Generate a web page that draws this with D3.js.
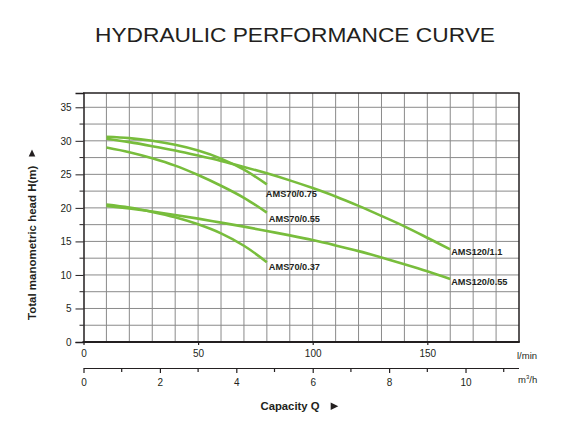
<!DOCTYPE html>
<html>
<head>
<meta charset="utf-8">
<script src="https://cdn.jsdelivr.net/npm/d3@7"></script>
<style>
  html, body { margin: 0; padding: 0; background: #fff; }
  svg { display: block; font-family: "Liberation Sans", Arial, Helvetica, sans-serif; }
</style>
</head>
<body>
<svg id="chart" width="567" height="443"></svg>
<script>
// ---------- data ----------
const title = "HYDRAULIC PERFORMANCE CURVE";
const yLabel = "Total manometric head H(m)";
const xLabel = "Capacity Q";
const yTicks = [0, 5, 10, 15, 20, 25, 30, 35];
const lminTicks = [0, 50, 100, 150];
const m3hTicks = [0, 2, 4, 6, 8, 10];
const m3hMinorTicks = [1, 3, 5, 7, 9, 11];

const seriesNames = ["AMS70/0.75", "AMS70/0.55", "AMS70/0.37", "AMS120/1.1", "AMS120/0.55"];
const q70 = [10, 20, 30, 40, 50, 60, 70, 80];
const h70_075 = [30.6, 30.4, 30.0, 29.4, 28.55, 27.35, 25.7, 23.5];
const h70_055 = [29.0, 28.3, 27.4, 26.3, 24.9, 23.3, 21.5, 19.3];
const h70_037 = [20.5, 20.05, 19.4, 18.6, 17.55, 16.2, 14.35, 11.9];
const q120 = [10, 20, 30, 40, 50, 60, 70, 80, 90, 100, 110, 120, 130, 140, 150, 160];
const h120_11 = [30.3, 29.8, 29.2, 28.55, 27.8, 27.0, 26.1, 25.15, 24.1, 22.95, 21.7, 20.3, 18.8, 17.25, 15.55, 13.8];
const h120_055 = [20.3, 19.9, 19.45, 18.95, 18.4, 17.8, 17.2, 16.55, 15.9, 15.2, 14.4, 13.55, 12.6, 11.6, 10.55, 9.4];

const seriesFlows = [q70, q70, q70, q120, q120];
const seriesHeads = [h70_075, h70_055, h70_037, h120_11, h120_055];

// ---------- styles / layout ----------
const green = "#78bd3c";
const ink = "#231f20";
const gridColor = "#8a8a8a";
const labelOffsets = {
  "AMS70/0.75": [-1, 9],
  "AMS70/0.55": [2, 6],
  "AMS70/0.37": [2, 5],
  "AMS120/1.1": [1, 2],
  "AMS120/0.55": [1, 3]
};
const L_PER_M3H = 1000 / 60;

const svg = d3.select("#chart");
const x = d3.scaleLinear().domain([0, 190]).range([83.5, 519]);
const y = d3.scaleLinear().domain([0, 37.13]).range([342, 93]);

// title
svg.append("text")
  .attr("x", 295).attr("y", 41.5)
  .attr("text-anchor", "middle")
  .attr("font-size", 19.5)
  .attr("fill", ink)
  .attr("textLength", 400)
  .attr("lengthAdjust", "spacingAndGlyphs")
  .text(title);

// grid
const grid = svg.append("g");
grid.selectAll("line.v").data(d3.range(10, 181, 10)).join("line")
  .attr("x1", d => x(d)).attr("x2", d => x(d))
  .attr("y1", y(37.13)).attr("y2", y(0))
  .attr("stroke", gridColor).attr("stroke-width", 1);
grid.selectAll("line.h").data(d3.range(2.5, 35.1, 2.5)).join("line")
  .attr("x1", x(0)).attr("x2", x(190))
  .attr("y1", d => y(d)).attr("y2", d => y(d))
  .attr("stroke", gridColor).attr("stroke-width", 1);

// frame
svg.append("line").attr("x1", x(0) - 0.5).attr("x2", x(190) + 0.5)
  .attr("y1", y(37.13)).attr("y2", y(37.13))
  .attr("stroke", ink).attr("stroke-width", 1.3);
svg.append("line").attr("x1", x(190)).attr("x2", x(190))
  .attr("y1", y(37.13)).attr("y2", y(0))
  .attr("stroke", ink).attr("stroke-width", 1.5);

// y axis
const yAxis = d3.axisLeft(y).tickValues(yTicks).tickSize(8).tickPadding(4);
const gy = svg.append("g").attr("transform", `translate(${x(0)},0)`).call(yAxis);
gy.select(".domain").attr("stroke", ink).attr("stroke-width", 1.5);
gy.selectAll(".tick line").attr("stroke", ink).attr("stroke-width", 1);
gy.selectAll(".tick text").attr("font-size", 10).attr("fill", ink)
  .attr("font-family", "\"Liberation Sans\", Arial, sans-serif");
svg.append("g").selectAll("line").data(d3.range(2.5, 35, 5)).join("line")
  .attr("x1", x(0) - 4).attr("x2", x(0))
  .attr("y1", d => y(d)).attr("y2", d => y(d))
  .attr("stroke", ink).attr("stroke-width", 1);

// x axis (l/min)
const xAxis = d3.axisBottom(x).tickValues(lminTicks).tickSize(3).tickPadding(5);
const gx = svg.append("g").attr("transform", `translate(0,${y(0)})`).call(xAxis);
gx.select(".domain").remove();
gx.selectAll(".tick line").attr("stroke", ink).attr("stroke-width", 1.2);
gx.selectAll(".tick text").attr("font-size", 10).attr("fill", ink)
  .attr("font-family", "\"Liberation Sans\", Arial, sans-serif");
svg.append("line").attr("x1", x(0) - 1).attr("x2", x(190) + 0.8)
  .attr("y1", y(0)).attr("y2", y(0))
  .attr("stroke", ink).attr("stroke-width", 2.2);
svg.append("text").attr("x", 517).attr("y", 359)
  .attr("font-size", 9.5).attr("fill", ink).text("l/min");

// second axis (m3/h)
const xm = d3.scaleLinear()
  .domain([0, 190 / L_PER_M3H])
  .range(x.range());
const mAxis = d3.axisBottom(xm).tickValues(m3hTicks).tickSize(4.5).tickPadding(6);
const gm = svg.append("g").attr("transform", "translate(0,368.5)").call(mAxis);
gm.select(".domain").attr("d", `M${x(0)},0H${x(190)}`).attr("stroke", ink).attr("stroke-width", 1.2);
gm.selectAll(".tick line").attr("stroke", ink).attr("stroke-width", 1.2);
gm.selectAll(".tick text").attr("font-size", 10).attr("fill", ink)
  .attr("font-family", "\"Liberation Sans\", Arial, sans-serif");
svg.append("g").selectAll("line").data(m3hMinorTicks).join("line")
  .attr("x1", d => xm(d)).attr("x2", d => xm(d))
  .attr("y1", 368.5).attr("y2", 372)
  .attr("stroke", ink).attr("stroke-width", 1.2);
const mUnit = svg.append("text").attr("x", 518).attr("y", 382.5)
  .attr("font-size", 9.5).attr("fill", ink);
mUnit.append("tspan").text("m");
mUnit.append("tspan").attr("font-size", 6).attr("dy", -3.5).text("3");
mUnit.append("tspan").attr("dy", 3.5).text("/h");

// axis titles
svg.append("text").attr("x", 260.5).attr("y", 410)
  .attr("font-size", 11.3).attr("font-weight", "bold").attr("fill", ink)
  .text(xLabel);
// arrow markers drawn as small triangles
svg.append("path")
  .attr("d", "M330.7,402.5L338.3,406.2L330.7,409.9Z")
  .attr("fill", ink);
svg.append("path")
  .attr("d", "M28.7,156.5L32,149.5L35.3,156.5Z")
  .attr("fill", ink);

svg.append("text")
  .attr("transform", "translate(35.8,320) rotate(-90)")
  .attr("font-size", 11.5).attr("font-weight", "bold").attr("fill", ink)
  .text(yLabel);

// curves
const line = d3.line().x(d => x(d[0])).y(d => y(d[1])).curve(d3.curveCatmullRom.alpha(0.5));
seriesNames.forEach((name, i) => {
  const pts = seriesFlows[i].map((q, j) => [q, seriesHeads[i][j]]);
  svg.append("path").datum(pts)
    .attr("d", line)
    .attr("fill", "none")
    .attr("stroke", green)
    .attr("stroke-width", 2.6)
    .attr("stroke-linecap", "butt");
  const last = pts[pts.length - 1];
  const off = labelOffsets[name];
  svg.append("text")
    .attr("x", x(last[0]) + off[0])
    .attr("y", y(last[1]) + off[1])
    .attr("dy", "0.35em")
    .attr("font-size", 9.2).attr("font-weight", "bold").attr("fill", ink)
    .text(name);
});
</script>
</body>
</html>
